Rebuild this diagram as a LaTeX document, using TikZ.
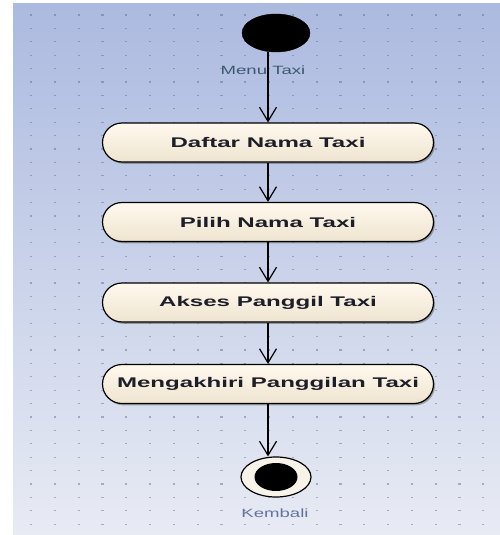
\documentclass[tikz,border=0pt]{standalone}
\usepackage{fontspec}
\setmainfont{Liberation Sans}
\newfontfamily\actfont[FakeStretch=1.72]{Liberation Sans}
\newfontfamily\lblfont[FakeStretch=1.55]{Liberation Sans}
\usetikzlibrary{arrows.meta,shapes.geometric,shadows}

\definecolor{panelTop}{RGB}{172,186,224}
\definecolor{panelBot}{RGB}{232,235,244}
\definecolor{gridDot}{RGB}{90,100,130}
\definecolor{actTop}{RGB}{255,249,238}
\definecolor{actBot}{RGB}{238,228,208}
\definecolor{actText}{RGB}{30,30,40}
\definecolor{menuText}{RGB}{60,90,110}
\definecolor{backText}{RGB}{100,115,160}
\definecolor{ringFill}{RGB}{248,243,232}

\tikzset{
  actbox/.style={rectangle, rounded corners=19.5pt, draw=black, line width=1.2pt,
    top color=actTop, bottom color=actBot,
    minimum width=331pt, minimum height=39pt, inner sep=0pt,
    font=\actfont\bfseries\fontsize{14}{16}\selectfont, text=actText,
    drop shadow={shadow xshift=1.5pt, shadow yshift=-1.8pt, fill=black!60, opacity=.55}},
  startnode/.style={ellipse, fill=black, draw=black, minimum width=68pt, minimum height=38pt, inner sep=0pt},
  endring/.style={ellipse, fill=ringFill, draw=black, line width=1.2pt, minimum width=70pt, minimum height=40pt, inner sep=0pt},
  enddot/.style={ellipse, fill=black, minimum width=43pt, minimum height=28pt, inner sep=0pt},
  lbl/.style={font=\lblfont\fontsize{12}{14}\selectfont, inner sep=0pt},
  flow/.style={draw=black, line width=1.4pt, -{Straight Barb[length=14pt, width=17pt, line width=1.2pt]}},
}

\begin{document}
\begin{tikzpicture}[x=1pt, y=-1pt]
  \useasboundingbox (0,0) rectangle (500,535);
  \fill[white] (0,0) rectangle (500,535);
  % diagram canvas with its dotted grid
  \shade[top color=panelTop, bottom color=panelBot] (13,4) rectangle (500,535);
  \foreach \i in {0,...,19}
    \foreach \j in {0,...,38}
      \fill[gridDot, opacity=.45] ({31+23.8*\i-1.1},{15+13.4*\j-0.6}) rectangle ++(2.2,1.2);

  % activity flow
  \node[startnode] (start) at (276,33) {};
  \node[actbox] (b1) at (268,142.5) {Daftar Nama Taxi};
  \node[actbox] (b2) at (268,222) {Pilih Nama Taxi};
  \node[actbox] (b3) at (268,302.5) {Akses Panggil Taxi};
  \node[actbox] (b4) at (268,384) {Mengakhiri Panggilan Taxi};
  \node[endring] (end) at (276,477) {};
  \node[enddot] (enddot) at (end) {};

  \node[lbl, text=menuText] (menu) at (263,70) {Menu Taxi};
  \node[lbl, text=backText] (back) at (275,513) {Kembali};

  \draw[flow] (start.south -| b1.north) -- (b1.north);
  \draw[flow] (b1.south) -- (b2.north);
  \draw[flow] (b2.south) -- (b3.north);
  \draw[flow] (b3.south) -- (b4.north);
  \draw[flow] (b4.south) -- (end.north -| b4.south);
\end{tikzpicture}
\end{document}
